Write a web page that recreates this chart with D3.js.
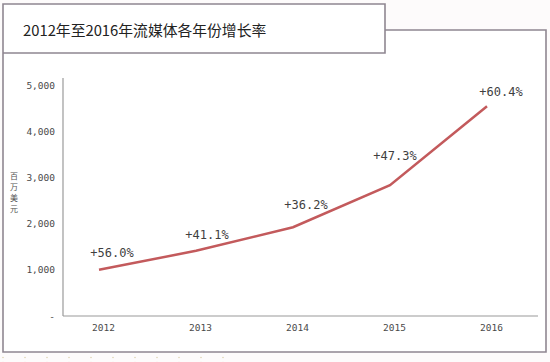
<!DOCTYPE html>
<html lang="zh">
<head>
    <meta charset="UTF-8">
    <title>流媒体增长率</title>
    <script src="https://cdn.jsdelivr.net/npm/d3@7/dist/d3.min.js"></script>
    <style>
        body{
            margin: 0;
            background: #fdfbfb;
        }
        .tick text{
            font-family: "DejaVu Sans Mono", "Liberation Mono", monospace;
            fill: #4a4a4a;
        }
        .growth{
            font-family: "DejaVu Sans Mono", "Liberation Mono", monospace;
            font-size: 12px;
            fill: #3f3f3f;
        }
    </style>
</head>
<body>
<svg id="chart" width="550" height="362"></svg>

<script>
    // data
    let years = ["2012", "2013", "2014", "2015", "2016"]
    let revenue = [1000, 1411, 1922, 2831, 4541]   // 百万美元
    let growth = ["+56.0%", "+41.1%", "+36.2%", "+47.3%", "+60.4%"]
    let yTicks = [0, 1000, 2000, 3000, 4000, 5000]

    // label nudges (layout only)
    let nudge = [[13, -17], [11, -16], [13, -22], [5, -29], [14, -14]]

    let svg = d3.select("#chart")
    let frameColor = "#8f8791"

    // faint dotted background under the frame
    let defs = svg.append("defs")
    defs.append("pattern")
        .attr("id", "dots")
        .attr("width", 22).attr("height", 5)
        .attr("patternUnits", "userSpaceOnUse")
        .append("circle")
        .attr("cx", 3).attr("cy", 2.5).attr("r", 0.7)
        .attr("fill", "#d9cfa6")
    svg.append("rect")
        .attr("x", 0).attr("y", 354).attr("width", 230).attr("height", 8)
        .attr("fill", "url(#dots)")

    // white panel + frame
    svg.append("path")
        .attr("d", "M3,4H385V30H546V352H3Z")
        .attr("fill", "#ffffff")
    svg.append("path")
        .attr("d", "M385,30H546V352H3V4H385V53H3")
        .attr("fill", "none")
        .attr("stroke", frameColor)
        .attr("stroke-width", 1.6)

    svg.append("text")
        .attr("x", 23).attr("y", 36)
        .attr("font-family", "'Noto Sans CJK SC', 'Noto Sans', sans-serif")
        .attr("font-size", "14.8px")
        .attr("fill", "#222")
        .text("2012年至2016年流媒体各年份增长率")

    // scales
    let x = d3.scalePoint().domain(years).range([99, 487])
    let y = d3.scaleLinear().domain([0, 5000]).range([316, 85])

    // axes
    let yAxis = svg.append("g")
        .attr("transform", "translate(63,0)")
        .call(d3.axisLeft(y)
            .tickValues(yTicks)
            .tickSize(0)
            .tickPadding(8)
            .tickFormat(function (d) { return d === 0 ? "-" : d3.format(",")(d) }))
    yAxis.select(".domain").remove()
    yAxis.selectAll("text").attr("font-size", "9.5px")

    let xAxis = svg.append("g")
        .attr("transform", "translate(0,316)")
        .call(d3.axisBottom(x).tickSize(0).tickPadding(8))
    xAxis.select(".domain").remove()
    xAxis.selectAll("text").attr("font-size", "9.5px").attr("dx", 4).attr("fill", "#333")

    svg.append("line")
        .attr("x1", 63).attr("x2", 63).attr("y1", 78).attr("y2", 316)
        .attr("stroke", "#9a9a9a").attr("stroke-width", 1.2)
    svg.append("line")
        .attr("x1", 63).attr("x2", 538).attr("y1", 316).attr("y2", 316)
        .attr("stroke", "#9a9a9a").attr("stroke-width", 1.2)

    // unit label, one char per text, stacked vertically
    svg.selectAll(".unit")
        .data("百万美元".split(""))
        .join("text")
        .attr("class", "unit")
        .attr("font-family", "'Noto Sans CJK SC', sans-serif")
        .attr("font-size", "8px")
        .attr("fill", "#555")
        .attr("text-anchor", "middle")
        .attr("x", 14)
        .attr("y", function (d, i) { return 179 + i * 11 })
        .text(function (d) { return d })

    // line
    let line = d3.line()
        .x(function (d, i) { return x(years[i]) })
        .y(function (d) { return y(d) })
    svg.append("path")
        .datum(revenue)
        .attr("d", line)
        .attr("fill", "none")
        .attr("stroke", "#c35a5c")
        .attr("stroke-width", 2.5)

    // growth labels
    svg.selectAll(".growth")
        .data(growth)
        .join("text")
        .attr("class", "growth")
        .attr("text-anchor", "middle")
        .attr("dominant-baseline", "central")
        .attr("x", function (d, i) { return x(years[i]) + nudge[i][0] })
        .attr("y", function (d, i) { return y(revenue[i]) + nudge[i][1] })
        .text(function (d) { return d })
</script>
</body>
</html>
